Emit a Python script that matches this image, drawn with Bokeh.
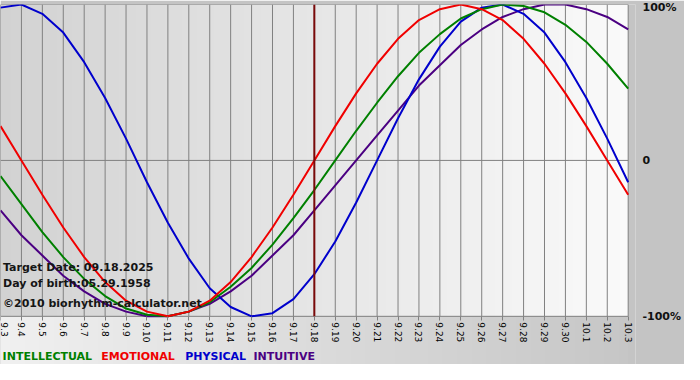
import numpy as np
from bokeh.plotting import figure
from bokeh.models import FixedTicker, Range1d, Label
from bokeh.embed import file_html
from bokeh.resources import INLINE
import math

# ---- data ----
dates = ["9.3", "9.4", "9.5", "9.6", "9.7", "9.8", "9.9", "9.10", "9.11", "9.12",
         "9.13", "9.14", "9.15", "9.16", "9.17", "9.18", "9.19", "9.20", "9.21",
         "9.22", "9.23", "9.24", "9.25", "9.26", "9.27", "9.28", "9.29", "9.30",
         "10.1", "10.2", "10.3"]
physical = [0.98, 1.00, 0.94, 0.82, 0.63, 0.40, 0.14, -0.14, -0.40, -0.63, -0.82,
            -0.94, -1.00, -0.98, -0.89, -0.73, -0.52, -0.27, 0.00, 0.27, 0.52,
            0.73, 0.89, 0.98, 1.00, 0.94, 0.82, 0.63, 0.40, 0.14, -0.14]
emotional = [0.22, 0.00, -0.22, -0.43, -0.62, -0.78, -0.90, -0.97, -1.00, -0.97,
             -0.90, -0.78, -0.62, -0.43, -0.22, 0.00, 0.22, 0.43, 0.62, 0.78,
             0.90, 0.97, 1.00, 0.97, 0.90, 0.78, 0.62, 0.43, 0.22, 0.00, -0.22]
intellectual = [-0.10, -0.28, -0.46, -0.62, -0.76, -0.87, -0.95, -0.99, -1.00,
                -0.97, -0.91, -0.81, -0.69, -0.54, -0.37, -0.19, 0.00, 0.19, 0.37,
                0.54, 0.69, 0.81, 0.91, 0.97, 1.00, 0.99, 0.95, 0.87, 0.76, 0.62,
                0.46]
intuitive = [-0.32, -0.48, -0.61, -0.74, -0.84, -0.92, -0.97, -1.00, -1.00, -0.97,
             -0.92, -0.84, -0.74, -0.61, -0.48, -0.32, -0.16, 0.00, 0.16, 0.32,
             0.48, 0.61, 0.74, 0.84, 0.92, 0.97, 1.00, 1.00, 0.97, 0.92, 0.84]
y_ticks = [-1, 0, 1]
y_tick_labels = ["-100%", "0", "100%"]
target_date = "9.18"
info_texts = ["Target Date: 09.18.2025", "Day of birth:05.29.1958",
              "\u00a92010 biorhythm-calculator.net"]
legend_names = ["INTELLECTUAL", "EMOTIONAL", "PHYSICAL", "INTUITIVE"]

# ---- styling ----
C_INT = "#008000"
C_EMO = "#f00000"
C_PHY = "#0000cc"
C_ITU = "#4b0082"
GRID = "#808080"
BORDER = "#c4c4c4"
FONT = "DejaVu Sans"
Y_LOW = -1.309   # extra room under the chart for date labels and legend
X_PAD = 0.35     # room right of the last day so its label is not clipped

xs = list(range(len(dates)))
n = len(dates) - 1


def gradient(c0, c1, m=256):
    t = np.linspace(0, 1, m)
    g = np.round(c0 + (c1 - c0) * t).astype(np.uint8)
    img = np.empty((1, m), dtype=np.uint32)
    view = img.view(dtype=np.uint8).reshape((1, m, 4))
    view[0, :, 0] = g
    view[0, :, 1] = g
    view[0, :, 2] = g
    view[0, :, 3] = 255
    return img


p = figure(width=684, height=364, output_backend="svg", toolbar_location=None,
           title=None, x_range=Range1d(0, n + X_PAD), y_range=Range1d(Y_LOW, 1.0),
           y_axis_location="right", min_border_left=0, min_border_top=4,
           min_border_bottom=0, min_border_right=41)
p.border_fill_color = BORDER
p.background_fill_color = BORDER
p.outline_line_color = None

# backgrounds: chart area (dark left -> light right), area below (light -> gray)
p.image_rgba(image=[gradient(0xd2, 0xfa)], x=0, y=-1, dw=n, dh=2.0, level="image")
p.image_rgba(image=[gradient(0xf0, 0xc6)], x=0, y=Y_LOW, dw=n, dh=-1 - Y_LOW,
             level="image")

# grid: vertical day lines and horizontal -100/0/100 lines inside the chart band
p.xgrid.visible = False
p.ygrid.visible = False
p.segment(x0=xs, y0=[-1] * len(xs), x1=xs, y1=[1] * len(xs),
          line_color=GRID, line_width=1, level="underlay")
p.segment(x0=[0] * len(y_ticks), y0=y_ticks, x1=[n] * len(y_ticks), y1=y_ticks,
          line_color=GRID, line_width=1, level="underlay")

# x axis, fixed at -100%
xa = p.xaxis[0]
xa.fixed_location = -1
xa.ticker = FixedTicker(ticks=xs)
xa.major_label_overrides = {i: d for i, d in enumerate(dates)}
xa.major_label_orientation = -math.pi / 2
xa.major_label_text_font = FONT
xa.major_label_text_font_size = "9px"
xa.major_label_text_color = "#000000"
xa.major_label_standoff = 2
xa.axis_line_color = None
xa.major_tick_line_color = GRID
xa.major_tick_out = 4
xa.major_tick_in = 0
xa.minor_tick_line_color = None

# y axis (right)
ya = p.yaxis[0]
ya.ticker = FixedTicker(ticks=y_ticks)
ya.major_label_overrides = {v: s for v, s in zip(y_ticks, y_tick_labels)}
ya.major_label_text_font = FONT
ya.major_label_text_font_style = "bold"
ya.major_label_text_font_size = "11px"
ya.major_label_text_color = "#111111"
ya.major_label_standoff = 1
ya.axis_line_color = None
ya.major_tick_line_color = None
ya.minor_tick_line_color = None

# curves
p.line(xs, intuitive, line_color=C_ITU, line_width=2)
p.line(xs, physical, line_color=C_PHY, line_width=2)
p.line(xs, intellectual, line_color=C_INT, line_width=2)
p.line(xs, emotional, line_color=C_EMO, line_width=2)

# target date line
ti = dates.index(target_date)
p.segment(x0=[ti], y0=[-1], x1=[ti], y1=[1], line_color="#7a0a0a", line_width=2)

# info texts
for txt, yy in zip(info_texts, [-0.69, -0.79, -0.915]):
    p.add_layout(Label(x=0.12, y=yy, text=txt, text_font=FONT,
                       text_font_style="bold", text_font_size="11px",
                       text_color="#151515", text_baseline="middle"))

# legend words
leg_cols = [C_INT, C_EMO, C_PHY, C_ITU]
leg_x = [0.1, 4.82, 8.83, 12.09]
for name, col, lx in zip(legend_names, leg_cols, leg_x):
    p.add_layout(Label(x=lx, y=-1.255, text=name, text_font=FONT,
                       text_font_style="bold", text_font_size="11px",
                       text_color=col, text_baseline="middle"))

open("out.html", "w").write(file_html(p, INLINE))
